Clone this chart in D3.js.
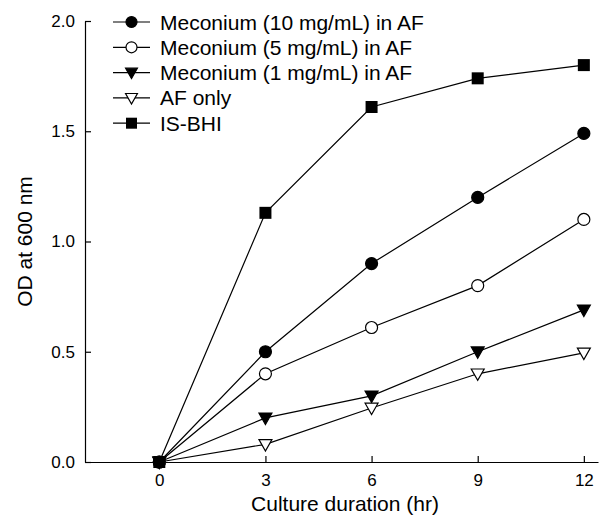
<!DOCTYPE html>
<html>
<head>
<meta charset="utf-8">
<script src="https://cdn.jsdelivr.net/npm/d3@7"></script>
<style>
  body { margin: 0; background: #fff; }
  svg { display: block; font-family: Arial, "Liberation Sans", sans-serif; }
</style>
</head>
<body>
<svg width="607" height="517"></svg>
<script>
'use strict'

const hours = [0, 3, 6, 9, 12];
const xTicks = [0, 3, 6, 9, 12];
const yTicks = [0, 0.5, 1.0, 1.5, 2.0];

const seriesNames = [
  'Meconium (10 mg/mL) in AF',
  'Meconium (5 mg/mL) in AF',
  'Meconium (1 mg/mL) in AF',
  'AF only',
  'IS-BHI'
];
const meconium10 = [0, 0.50, 0.90, 1.20, 1.49];
const meconium5 = [0, 0.40, 0.61, 0.80, 1.10];
const meconium1 = [0, 0.20, 0.30, 0.50, 0.69];
const afOnly = [0, 0.08, 0.245, 0.40, 0.495];
const isBhi = [0, 1.13, 1.61, 1.74, 1.80];

const seriesValues = [meconium10, meconium5, meconium1, afOnly, isBhi];
const markerKinds = ['circleFilled', 'circleOpen', 'triFilled', 'triOpen', 'square'];

const svg = d3.select('svg');

const x = d3.scaleLinear().domain([-2.1, 12.4]).range([85, 598]);
const y = d3.scaleLinear().domain([0, 2]).range([462, 21]);

// axes, ticks point inward
const xAxis = svg.append('g')
  .attr('transform', 'translate(0,' + y(0) + ')')
  .call(d3.axisBottom(x).tickValues(xTicks).tickSizeInner(-6).tickSizeOuter(0).tickPadding(12).tickFormat(d3.format('d')));
const yAxis = svg.append('g')
  .attr('transform', 'translate(' + x(-2.1) + ',0)')
  .call(d3.axisLeft(y).tickValues(yTicks).tickSizeInner(-6).tickSizeOuter(0).tickPadding(10).tickFormat(d3.format('.1f')));

[xAxis, yAxis].forEach(a => {
  a.selectAll('path, line').attr('stroke', '#000').attr('stroke-width', 1.2);
  a.selectAll('text').attr('font-size', 17).attr('fill', '#000')
    .attr('font-family', 'Arial, "Liberation Sans", sans-serif');
});

svg.append('text')
  .attr('x', 345).attr('y', 511)
  .attr('text-anchor', 'middle')
  .attr('font-size', 21)
  .text('Culture duration (hr)');

svg.append('text')
  .attr('transform', 'translate(32,' + y(1) + ') rotate(-90)')
  .attr('text-anchor', 'middle')
  .attr('font-size', 21)
  .text('OD at 600 nm');

function drawMarker(g, kind, r) {
  const fill = (kind === 'circleOpen' || kind === 'triOpen') ? '#fff' : '#000';
  if (kind.startsWith('circle')) {
    g.append('circle').attr('r', r).attr('fill', fill).attr('stroke', '#000').attr('stroke-width', 1.2);
  } else if (kind.startsWith('tri')) {
    const h = r * 1.08;
    g.append('path').attr('d', `M${-h},${-r * 0.8} L${h},${-r * 0.8} L0,${r * 1.1} Z`)
      .attr('fill', fill).attr('stroke', '#000').attr('stroke-width', 1.2);
  } else {
    g.append('rect').attr('x', -r).attr('y', -r).attr('width', 2 * r).attr('height', 2 * r).attr('fill', fill);
  }
}

const line = d3.line()
  .x((d, i) => x(hours[i]))
  .y(d => y(d));

// lines
seriesValues.forEach(vals => {
  svg.append('path')
    .attr('d', line(vals))
    .attr('fill', 'none')
    .attr('stroke', '#000')
    .attr('stroke-width', 1.2);
});

// markers
seriesValues.forEach((vals, s) => {
  vals.forEach((v, i) => {
    const g = svg.append('g').attr('transform', 'translate(' + x(hours[i]) + ',' + y(v) + ')');
    drawMarker(g, markerKinds[s], 6);
  });
});

// legend
const legend = svg.append('g');
seriesNames.forEach((name, i) => {
  const ly = 22 + i * 25.3;
  legend.append('line')
    .attr('x1', 113).attr('x2', 150).attr('y1', ly).attr('y2', ly)
    .attr('stroke', '#000').attr('stroke-width', 1.2);
  drawMarker(legend.append('g').attr('transform', 'translate(131.5,' + ly + ')'), markerKinds[i], 5.5);
  legend.append('text')
    .attr('x', 160).attr('y', ly).attr('dy', '0.36em')
    .attr('font-size', 21)
    .text(name);
});
</script>
</body>
</html>
